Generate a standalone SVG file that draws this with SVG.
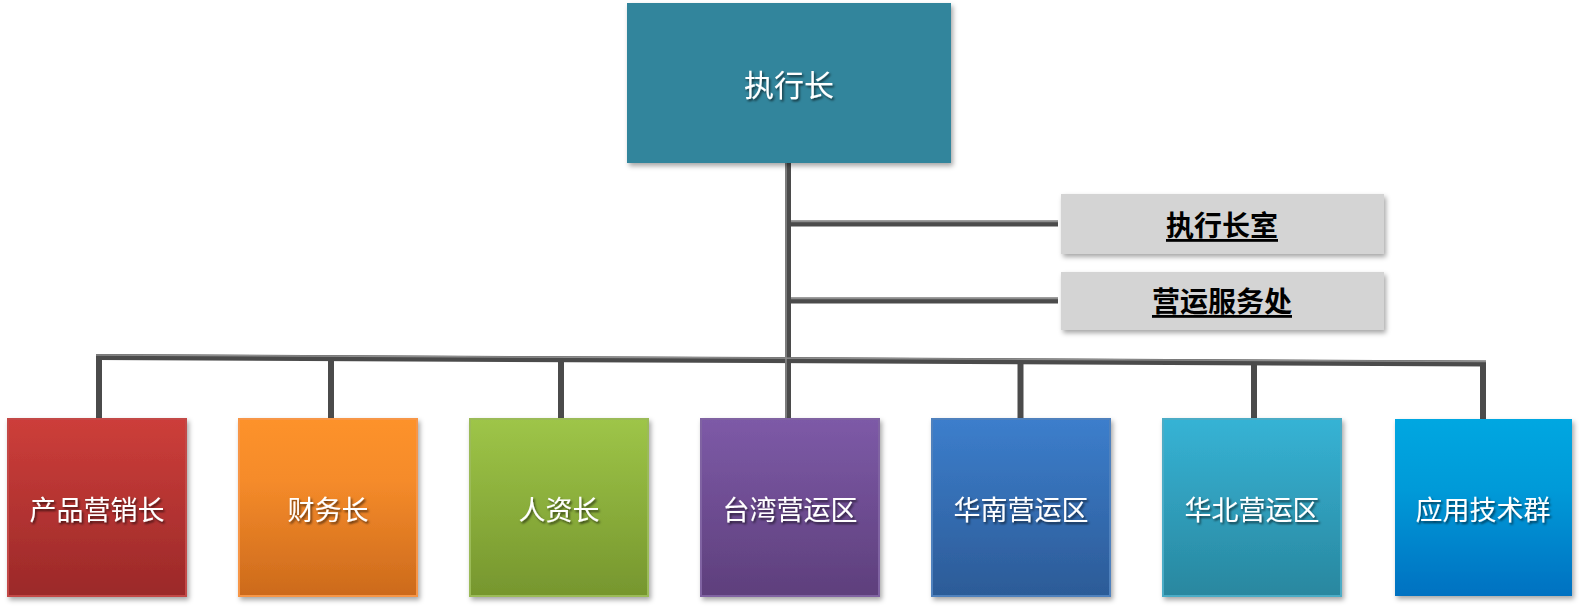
<svg xmlns="http://www.w3.org/2000/svg" width="1579" height="608" viewBox="0 0 1579 608">
<style>
.t{font-family:"Noto Sans CJK SC","Noto Sans",sans-serif;fill:#fff;text-anchor:middle;dominant-baseline:central}
.top{font-size:30px}
.child{font-size:27px}
.side{font-family:"Noto Sans CJK SC","Noto Sans",sans-serif;font-size:28px;font-weight:bold;fill:#000;text-anchor:middle;dominant-baseline:central;text-decoration:underline}
.ln{stroke:#4b4b4b;stroke-width:6;fill:none}
.hl{stroke:#8c8c8c;stroke-width:1.5;fill:none}
</style>
<defs>
<filter id="sh" x="-10%" y="-10%" width="125%" height="130%">
<feDropShadow dx="2" dy="3" stdDeviation="2.5" flood-color="#000" flood-opacity="0.35"/>
</filter>
<filter id="ts" x="-10%" y="-20%" width="130%" height="150%">
<feDropShadow dx="1.5" dy="2" stdDeviation="1" flood-color="#000" flood-opacity="0.6"/>
</filter>
<linearGradient id="g1" x1="0" y1="0" x2="0" y2="1"><stop offset="0" stop-color="#cd3e3a"/><stop offset="1" stop-color="#9b2929"/></linearGradient>
<linearGradient id="g2" x1="0" y1="0" x2="0" y2="1"><stop offset="0" stop-color="#fd922c"/><stop offset="0.35" stop-color="#f58b2a"/><stop offset="1" stop-color="#cc6a1c"/></linearGradient>
<linearGradient id="g3" x1="0" y1="0" x2="0" y2="1"><stop offset="0" stop-color="#9ec548"/><stop offset="1" stop-color="#76962e"/></linearGradient>
<linearGradient id="g4" x1="0" y1="0" x2="0" y2="1"><stop offset="0" stop-color="#7d5aa7"/><stop offset="1" stop-color="#5e3f7c"/></linearGradient>
<linearGradient id="g5" x1="0" y1="0" x2="0" y2="1"><stop offset="0" stop-color="#3c7ecc"/><stop offset="1" stop-color="#2c5b97"/></linearGradient>
<linearGradient id="g6" x1="0" y1="0" x2="0" y2="1"><stop offset="0" stop-color="#36b3d5"/><stop offset="1" stop-color="#29879f"/></linearGradient>
<linearGradient id="g7" x1="0" y1="0" x2="0" y2="1"><stop offset="0" stop-color="#00a7e1"/><stop offset="0.4" stop-color="#009ad8"/><stop offset="1" stop-color="#0071c1"/></linearGradient>
</defs>
<rect width="1579" height="608" fill="#fff"/>

<g id="connectors">
<line class="ln" x1="788" y1="163" x2="788" y2="418"/>
<line class="ln" x1="791" y1="223.5" x2="1058" y2="223.5"/>
<line class="ln" x1="791" y1="300.5" x2="1058" y2="300.5"/>
<line class="ln" x1="96" y1="357" x2="1486" y2="363.5"/>
<line class="ln" x1="99" y1="357" x2="99" y2="418"/>
<line class="ln" x1="331" y1="358" x2="331" y2="418"/>
<line class="ln" x1="561" y1="359" x2="561" y2="418"/>
<line class="ln" x1="1020.5" y1="362" x2="1020.5" y2="418"/>
<line class="ln" x1="1254" y1="363" x2="1254" y2="418"/>
<line class="ln" x1="1483" y1="363.5" x2="1483" y2="419"/>
<line class="hl" x1="786" y1="163" x2="786" y2="418"/>
<line class="hl" x1="791" y1="221.5" x2="1058" y2="221.5"/>
<line class="hl" x1="791" y1="298.5" x2="1058" y2="298.5"/>
<line class="hl" x1="96" y1="355" x2="1486" y2="361.5"/>
</g>

<g id="ceo">
<rect x="627" y="3" width="324" height="160" fill="#31859c" filter="url(#sh)"/>
<text class="t top" x="789" y="83" filter="url(#ts)">执行长</text>
</g>

<g id="ceo-office">
<rect x="1061" y="194" width="323" height="60" fill="#d4d4d4" filter="url(#sh)"/>
<text class="side" x="1222" y="224">执行长室</text>
</g>

<g id="ops-service">
<rect x="1061" y="272" width="323" height="58" fill="#d4d4d4" filter="url(#sh)"/>
<text class="side" x="1222" y="300">营运服务处</text>
</g>

<g id="n1">
<rect x="8" y="419" width="178" height="177" fill="url(#g1)" stroke="#c34a47" stroke-width="2" filter="url(#sh)"/>
<text class="t child" x="97" y="508" filter="url(#ts)">产品营销长</text>
</g>
<g id="n2">
<rect x="239" y="419" width="178" height="177" fill="url(#g2)" stroke="#f79646" stroke-width="2" filter="url(#sh)"/>
<text class="t child" x="328" y="508" filter="url(#ts)">财务长</text>
</g>
<g id="n3">
<rect x="470" y="419" width="178" height="177" fill="url(#g3)" stroke="#9bbb59" stroke-width="2" filter="url(#sh)"/>
<text class="t child" x="559" y="508" filter="url(#ts)">人资长</text>
</g>
<g id="n4">
<rect x="701" y="419" width="178" height="177" fill="url(#g4)" stroke="#8064a2" stroke-width="2" filter="url(#sh)"/>
<text class="t child" x="790" y="508" filter="url(#ts)">台湾营运区</text>
</g>
<g id="n5">
<rect x="932" y="419" width="178" height="177" fill="url(#g5)" stroke="#4f81bd" stroke-width="2" filter="url(#sh)"/>
<text class="t child" x="1021" y="508" filter="url(#ts)">华南营运区</text>
</g>
<g id="n6">
<rect x="1163" y="419" width="178" height="177" fill="url(#g6)" stroke="#4bacc6" stroke-width="2" filter="url(#sh)"/>
<text class="t child" x="1252" y="508" filter="url(#ts)">华北营运区</text>
</g>
<g id="n7">
<rect x="1395" y="419" width="177" height="177" fill="url(#g7)" filter="url(#sh)"/>
<text class="t child" x="1483" y="508" filter="url(#ts)">应用技术群</text>
</g>
</svg>
